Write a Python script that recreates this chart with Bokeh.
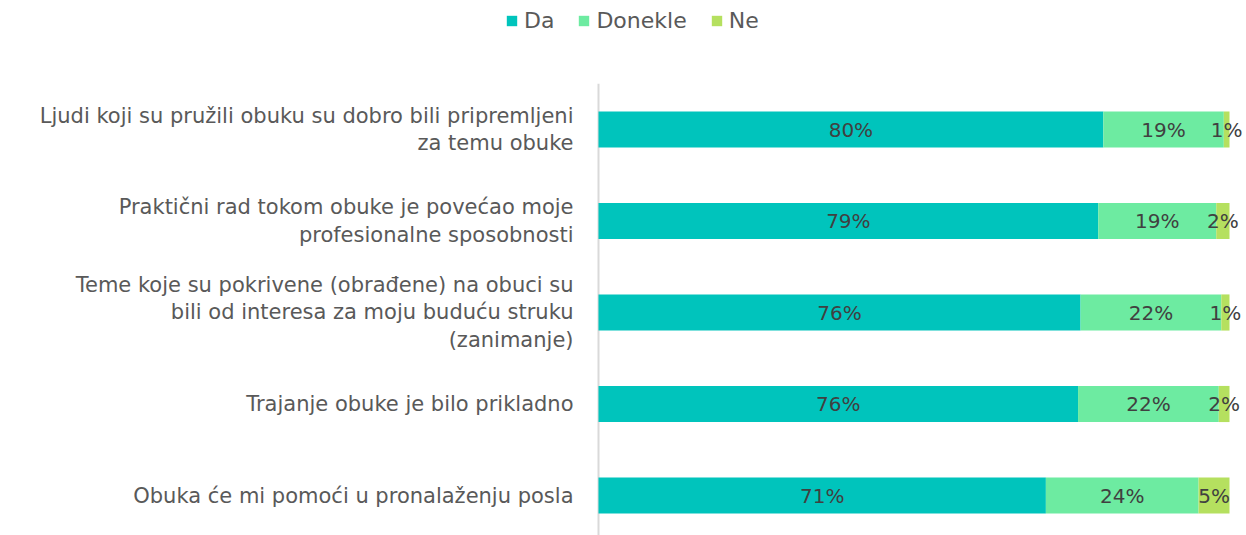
from bokeh.plotting import figure
from bokeh.models import ColumnDataSource, Range1d, Legend, LegendItem
from bokeh.core.properties import value
from bokeh.embed import file_html
from bokeh.resources import INLINE

categories = [
    "Ljudi koji su pružili obuku su dobro bili pripremljeni\nza temu obuke",
    "Praktični rad tokom obuke je povećao moje\nprofesionalne sposobnosti",
    "Teme koje su pokrivene (obrađene) na obuci su\nbili od interesa za moju buduću struku\n(zanimanje)",
    "Trajanje obuke je bilo prikladno",
    "Obuka će mi pomoći u pronalaženju posla",
]
da = [80.0, 79.2, 76.4, 76.0, 70.9]
donekle = [19.1, 18.7, 22.3, 22.3, 24.2]
ne = [0.9, 2.1, 1.3, 1.7, 4.9]
series_names = ["Da", "Donekle", "Ne"]
colors = ["#00C4BC", "#6DEBA1", "#B5E05F"]

FONT = "DejaVu Sans"
n = len(categories)
ypos = [n - 1 - i for i in range(n)]

W, H = 1246, 535
# layout: value axis origin at 598px, 100% at 1229px; top row centre at 129px, row pitch 91.5px
px_per_pct = 631.0 / 100.0
x_start = -598 / px_per_pct
x_end = (W - 598) / px_per_pct
unit = 91.5
y_end = (n - 1) + 129 / unit
y_start = y_end - H / unit

p = figure(width=W, height=H, output_backend="svg", toolbar_location=None,
           x_range=Range1d(x_start, x_end), y_range=Range1d(y_start, y_end),
           min_border=0)
p.outline_line_color = None
p.xgrid.visible = False
p.ygrid.visible = False
p.xaxis.visible = False
p.yaxis.visible = False
p.background_fill_color = "white"
p.border_fill_color = "white"

# category axis line at the value origin, spanning the category bands
p.segment(x0=[0], y0=[y_start], x1=[0], y1=[n - 0.5], line_color="#D9D9D9", line_width=2)

# category labels (axis-like), right-aligned left of the value origin
cat_src = ColumnDataSource(dict(y=ypos, x=[0] * n, lab=categories))
p.text(x="x", y="y", text="lab", source=cat_src, x_offset=-25, text_align="right",
       text_baseline="middle", text_font=value(FONT), text_font_size="21px",
       text_line_height=1.15, text_color="#595959")

left = [0.0] * n
renderers = []
vals_list = [da, donekle, ne]
for name, vals, col in zip(series_names, vals_list, colors):
    right = [l + v for l, v in zip(left, vals)]
    mid = [(l + r) / 2 for l, r in zip(left, right)]
    src = ColumnDataSource(dict(y=ypos, left=left, right=right, mid=mid,
                                lab=[f"{round(v)}%" for v in vals]))
    r = p.hbar(y="y", left="left", right="right", height=0.395, source=src,
               fill_color=col, line_color=None)
    renderers.append(r)
    p.text(x="mid", y="y", text="lab", source=src, text_align="center",
           text_baseline="middle", text_font=value(FONT), text_font_size="20px",
           text_color="#404040")
    left = right

legend = Legend(items=[LegendItem(label=nm, renderers=[r]) for nm, r in zip(series_names, renderers)],
                orientation="horizontal", location=(505, H - 33),
                glyph_width=13, glyph_height=13, label_standoff=6, spacing=23,
                padding=0, margin=0, border_line_color=None, background_fill_alpha=0,
                label_text_font=FONT, label_text_font_size="22px", label_text_color="#595959")
p.add_layout(legend, "center")

open("out.html", "w").write(file_html(p, INLINE))
